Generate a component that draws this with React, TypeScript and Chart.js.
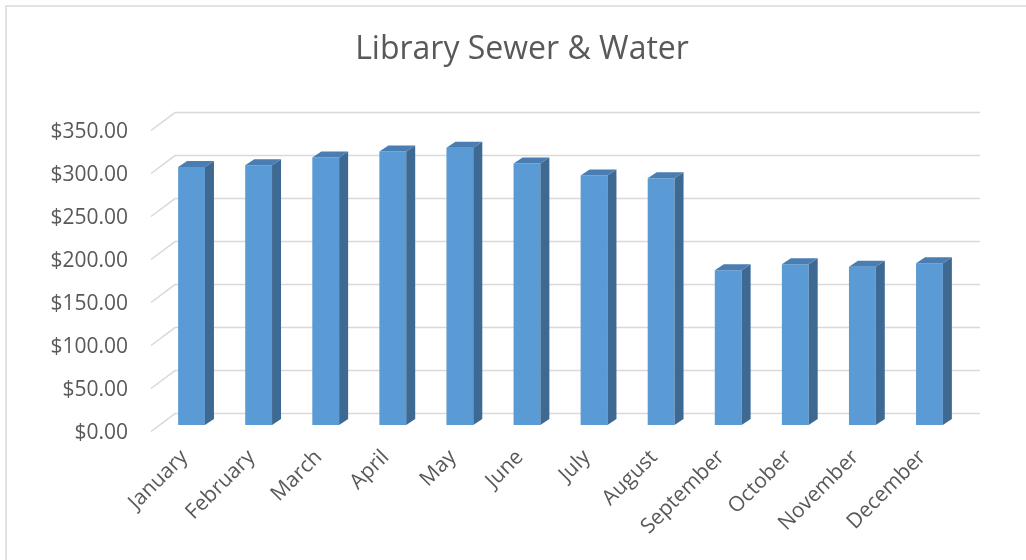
import React, { useEffect, useRef } from "react";
import { Chart, registerables } from "chart.js";

Chart.register(...registerables);

const chartTitle = "Library Sewer & Water";
const months = [
  "January", "February", "March", "April", "May", "June",
  "July", "August", "September", "October", "November", "December",
];
const costs = [300, 302, 311, 318, 322.5, 304, 290, 287, 180, 187, 184, 188];
const yTickValues = [0, 50, 100, 150, 200, 250, 300, 350];
const yTickLabels = ["$0.00", "$50.00", "$100.00", "$150.00", "$200.00", "$250.00", "$300.00", "$350.00"];

const FONT = "'Open Sans', 'Noto Sans', sans-serif";
const TEXT = "#595959";
const GRID = "#D9D9D9";
const FRONT = "#5B9BD5";
const SIDE = "#3D6993";
const TOP = "#4A7DB1";

const depthPlugin = {
  id: "depth3d",
  beforeDraw(chart: any) {
    const ctx = chart.ctx;
    ctx.save();
    ctx.fillStyle = "#ffffff";
    ctx.fillRect(0, 0, chart.width, chart.height);
    ctx.strokeStyle = GRID;
    ctx.lineWidth = 1.5;
    ctx.strokeRect(6, 6, chart.width + 50, chart.height + 50);
    ctx.restore();
  },
  beforeDatasetsDraw(chart: any) {
    const { ctx, chartArea, scales } = chart;
    const y = scales.y;
    ctx.save();
    ctx.strokeStyle = GRID;
    ctx.lineWidth = 1.5;
    y.ticks.forEach((t: any) => {
      const p = y.getPixelForValue(t.value);
      ctx.beginPath();
      ctx.moveTo(chartArea.left - 7, p + 6.5);
      ctx.lineTo(chartArea.left + 17, p - 11.4);
      ctx.lineTo(chartArea.right + 17, p - 11.4);
      ctx.stroke();
    });
    ctx.restore();
  },
  afterDatasetsDraw(chart: any) {
    const ctx = chart.ctx;
    const meta = chart.getDatasetMeta(0);
    const dx = 9;
    const dy = -6;
    ctx.save();
    meta.data.forEach((bar: any) => {
      const { x, y, base, width } = bar.getProps(["x", "y", "base", "width"], true);
      const l = x - width / 2;
      const r = x + width / 2;
      ctx.fillStyle = SIDE;
      ctx.beginPath();
      ctx.moveTo(r, y);
      ctx.lineTo(r + dx, y + dy);
      ctx.lineTo(r + dx, base + dy);
      ctx.lineTo(r, base);
      ctx.closePath();
      ctx.fill();
      ctx.fillStyle = TOP;
      ctx.beginPath();
      ctx.moveTo(l, y);
      ctx.lineTo(l + dx, y + dy);
      ctx.lineTo(r + dx, y + dy);
      ctx.lineTo(r, y);
      ctx.closePath();
      ctx.fill();
    });
    ctx.restore();
  },
  afterDraw(chart: any) {
    const ctx = chart.ctx;
    ctx.save();
    ctx.fillStyle = TEXT;
    ctx.font = `400 32px ${FONT}`;
    ctx.textAlign = "center";
    ctx.textBaseline = "alphabetic";
    ctx.fillText(chartTitle, 522, 59);
    ctx.restore();
  },
};

export default function App() {
  const ref = useRef<HTMLCanvasElement | null>(null);

  useEffect(() => {
    if (!ref.current) return;
    const chart = new Chart(ref.current, {
      type: "bar",
      data: {
        labels: months,
        datasets: [
          {
            data: costs,
            backgroundColor: FRONT,
            borderWidth: 0,
            barPercentage: 0.4,
            categoryPercentage: 1,
          },
        ],
      },
      options: {
        responsive: false,
        animation: false,
        devicePixelRatio: 1,
        layout: { padding: { left: 0, top: 124, right: 63, bottom: 0 } },
        plugins: {
          legend: { display: false },
          title: { display: false },
          tooltip: { enabled: false },
        },
        scales: {
          x: {
            grid: { display: false, drawTicks: false },
            border: { display: false },
            ticks: {
              autoSkip: false,
              maxRotation: 45,
              minRotation: 45,
              padding: 20,
              labelOffset: -7,
              color: TEXT,
              font: { family: FONT, size: 21 },
            },
            afterFit(scale: any) {
              scale.height = 135;
            },
          },
          y: {
            min: 0,
            max: 350,
            grid: { display: false, drawTicks: false },
            border: { display: false },
            ticks: {
              stepSize: 50,
              padding: 30,
              labelOffset: 8.5,
              color: TEXT,
              font: { family: FONT, size: 21 },
              callback: (v: any) => {
                const i = yTickValues.indexOf(Number(v));
                return i >= 0 ? yTickLabels[i] : "";
              },
            },
            afterFit(scale: any) {
              scale.width = 158;
            },
          },
        },
      },
      plugins: [depthPlugin],
    });
    return () => chart.destroy();
  }, []);

  return (
    <div style={{ position: "fixed", left: 0, top: 0, width: 1026, height: 560, background: "#fff" }}>
      <canvas ref={ref} width={1026} height={560} style={{ display: "block" }} />
    </div>
  );
}
